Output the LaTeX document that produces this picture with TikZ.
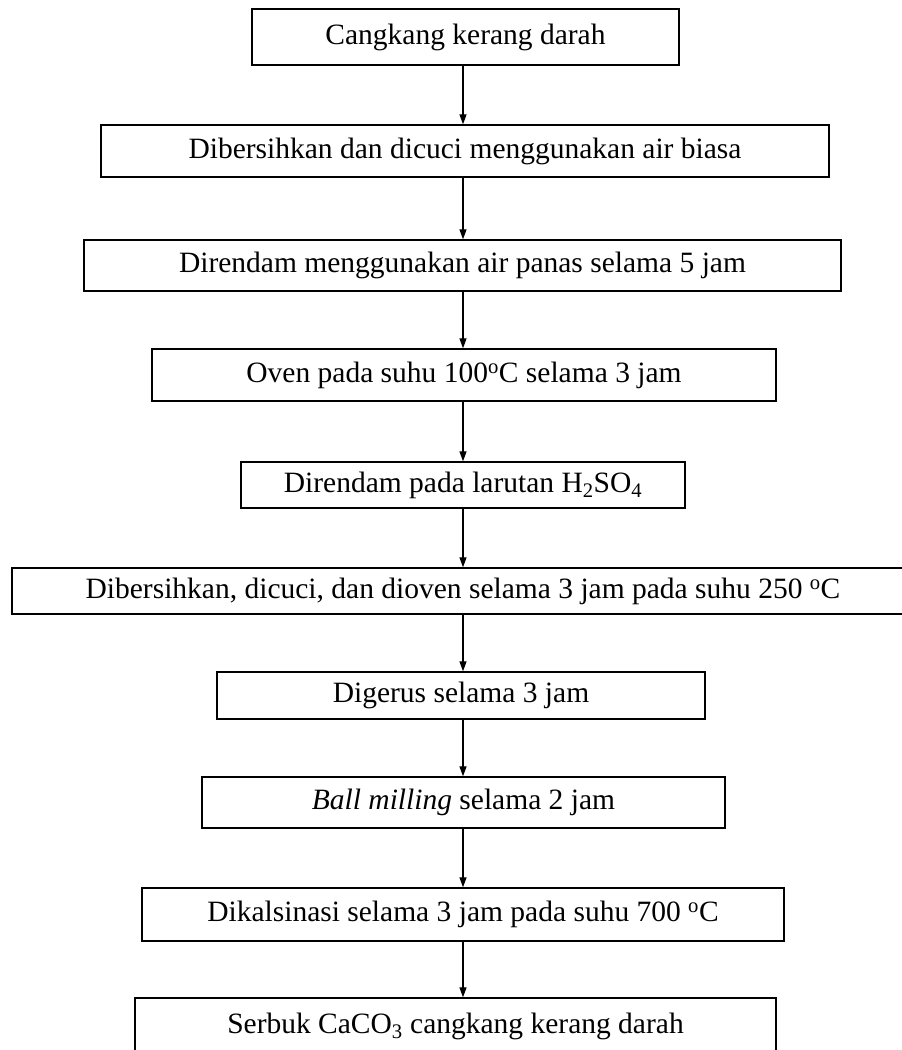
\documentclass[tikz,border=0pt]{standalone}
\usepackage{fontspec}
\setmainfont{Liberation Serif}
\usetikzlibrary{arrows.meta}
\begin{document}
\begin{tikzpicture}[x=1pt,y=-1pt,
  stepbox/.style={draw=black, line width=1.4pt, rectangle, inner sep=0pt, font=\fontsize{29.5}{34}\selectfont},
  arr/.style={line width=1.3pt, -{Triangle[length=10pt,width=7pt]}}]
\useasboundingbox (0,0) rectangle (902,1050);
\fill[white] (0,0) rectangle (902,1050);
\node[stepbox, minimum width=427pt, minimum height=56pt] (b1) at (465.5,37) {Cangkang kerang darah};
\node[stepbox, minimum width=728pt, minimum height=52pt] (b2) at (465,151) {Dibersihkan dan dicuci menggunakan air biasa};
\node[stepbox, minimum width=757pt, minimum height=51pt] (b3) at (462.5,265.5) {Direndam menggunakan air panas selama 5 jam};
\node[stepbox, minimum width=624pt, minimum height=52pt] (b4) at (464,375) {Oven pada suhu 100\textsuperscript{o}C selama 3 jam};
\node[stepbox, minimum width=444pt, minimum height=46pt] (b5) at (463,485) {Direndam pada larutan H\textsubscript{2}SO\textsubscript{4}};
\node[stepbox, minimum width=902pt, minimum height=46pt] (b6) at (463,591) {Dibersihkan, dicuci, dan dioven selama 3 jam pada suhu 250 \textsuperscript{o}C};
\node[stepbox, minimum width=488pt, minimum height=47pt] (b7) at (461,695.5) {Digerus selama 3 jam};
\node[stepbox, minimum width=523pt, minimum height=51pt] (b8) at (463.5,802.5) {\textit{Ball milling} selama 2 jam};
\node[stepbox, minimum width=642pt, minimum height=53pt] (b9) at (463,914.5) {Dikalsinasi selama 3 jam pada suhu 700 \textsuperscript{o}C};
\node[stepbox, minimum width=641pt, minimum height=56pt] (b10) at (455.5,1026) {Serbuk CaCO\textsubscript{3} cangkang kerang darah};
\coordinate (ax) at (463,0);
\draw[arr] (b1.south -| ax) -- (b2.north -| ax);
\draw[arr] (b2.south -| ax) -- (b3.north -| ax);
\draw[arr] (b3.south -| ax) -- (b4.north -| ax);
\draw[arr] (b4.south -| ax) -- (b5.north -| ax);
\draw[arr] (b5.south -| ax) -- (b6.north -| ax);
\draw[arr] (b6.south -| ax) -- (b7.north -| ax);
\draw[arr] (b7.south -| ax) -- (b8.north -| ax);
\draw[arr] (b8.south -| ax) -- (b9.north -| ax);
\draw[arr] (b9.south -| ax) -- (b10.north -| ax);
\end{tikzpicture}
\end{document}
